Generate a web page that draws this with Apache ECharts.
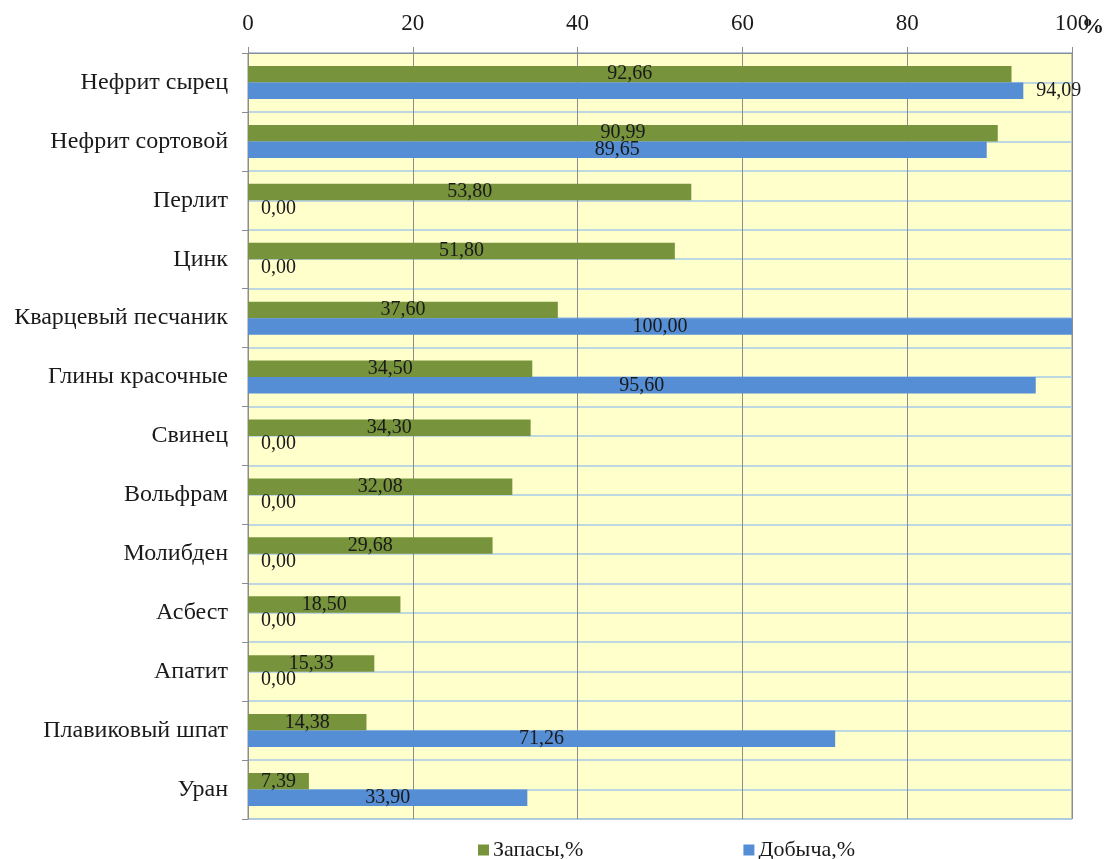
<!DOCTYPE html>
<html>
<head>
<meta charset="utf-8">
<script src="https://cdn.jsdelivr.net/npm/echarts@6/dist/echarts.min.js"></script>
<style>
html,body{margin:0;padding:0;background:#fff;}
#chart{width:1109px;height:859px;}
</style>
</head>
<body>
<div id="chart"></div>
<script>
const categories = ['Нефрит сырец','Нефрит сортовой','Перлит','Цинк','Кварцевый песчаник','Глины красочные','Свинец','Вольфрам','Молибден','Асбест','Апатит','Плавиковый шпат','Уран'];
const zapasy = [92.66, 90.99, 53.80, 51.80, 37.60, 34.50, 34.30, 32.08, 29.68, 18.50, 15.33, 14.38, 7.39];
const dobycha = [94.09, 89.65, 0.00, 0.00, 100.00, 95.60, 0.00, 0.00, 0.00, 0.00, 0.00, 71.26, 33.90];
const xTicks = [0, 20, 40, 60, 80, 100];
const seriesNames = ['Запасы,%', 'Добыча,%'];

const FONT = '"Liberation Serif", "Times New Roman", serif';
const fmt = v => v.toFixed(2).replace('.', ',');
const halfCats = categories.flatMap(c => [c + '_a', c + '_b']);

const chart = echarts.init(document.getElementById('chart'));
chart.setOption({
  backgroundColor: '#ffffff',
  animation: false,
  textStyle: { fontFamily: FONT },
  grid: {
    left: 248, right: 37, top: 53, bottom: 40,
    show: true, backgroundColor: '#FFFFCC', borderColor: '#8c8c8c', borderWidth: 1
  },
  legend: {
    top: 834, left: 473,
    itemWidth: 11, itemHeight: 11, itemGap: 160,
    icon: 'rect',
    textStyle: { fontFamily: FONT, fontSize: 22, color: '#1a1a1a', padding: [0,0,0,-1] },
    data: seriesNames
  },
  xAxis: {
    type: 'value', position: 'top', min: 0, max: 100, interval: 20,
    axisLine: { show: true, lineStyle: { color: '#8c8c8c' } },
    axisTick: { show: true, length: 6, lineStyle: { color: '#8c8c8c' } },
    axisLabel: { fontFamily: FONT, fontSize: 23, color: '#1a1a1a', margin: 18,
      formatter: v => xTicks.includes(v) ? String(v) : '' },
    splitLine: { show: true, lineStyle: { color: '#8c8c8c', width: 1 } }
  },
  yAxis: [{
    type: 'category', data: categories, inverse: true,
    axisLine: { show: true, lineStyle: { color: '#8c8c8c' } },
    axisTick: { show: true, length: 6, lineStyle: { color: '#8c8c8c' } },
    axisLabel: { fontFamily: FONT, fontSize: 24, color: '#1a1a1a', margin: 20 },
    splitLine: { show: false }
  }, {
    type: 'category', data: halfCats, inverse: true, position: 'left',
    axisLine: { show: false }, axisTick: { show: false }, axisLabel: { show: false },
    splitLine: { show: true, lineStyle: { color: '#A9CBE8', width: 1.5 } }
  }],
  graphic: [{
    type: 'text', left: 1082, top: 16, z: 100,
    style: { text: '%', font: 'bold 22px ' + FONT, fill: '#1a1a1a' }
  }],
  series: [{
    name: seriesNames[0], type: 'bar', yAxisIndex: 0,
    barGap: '0%', barCategoryGap: '44%',
    itemStyle: { color: '#77933C' },
    label: { show: true, position: 'inside', fontFamily: FONT, fontSize: 20, color: '#1a1a1a',
      formatter: p => fmt(p.value) },
    data: zapasy
  }, {
    name: seriesNames[1], type: 'bar', yAxisIndex: 0,
    barGap: '0%', barCategoryGap: '44%',
    itemStyle: { color: '#558ED5' },
    label: { show: true, position: 'inside', fontFamily: FONT, fontSize: 20, color: '#1a1a1a',
      formatter: p => fmt(p.value) },
    data: dobycha.map((v, i) => (v === 0 || i === 0)
      ? { value: v, label: { position: 'right', distance: 13 } }
      : v)
  }]
});
</script>
</body>
</html>
